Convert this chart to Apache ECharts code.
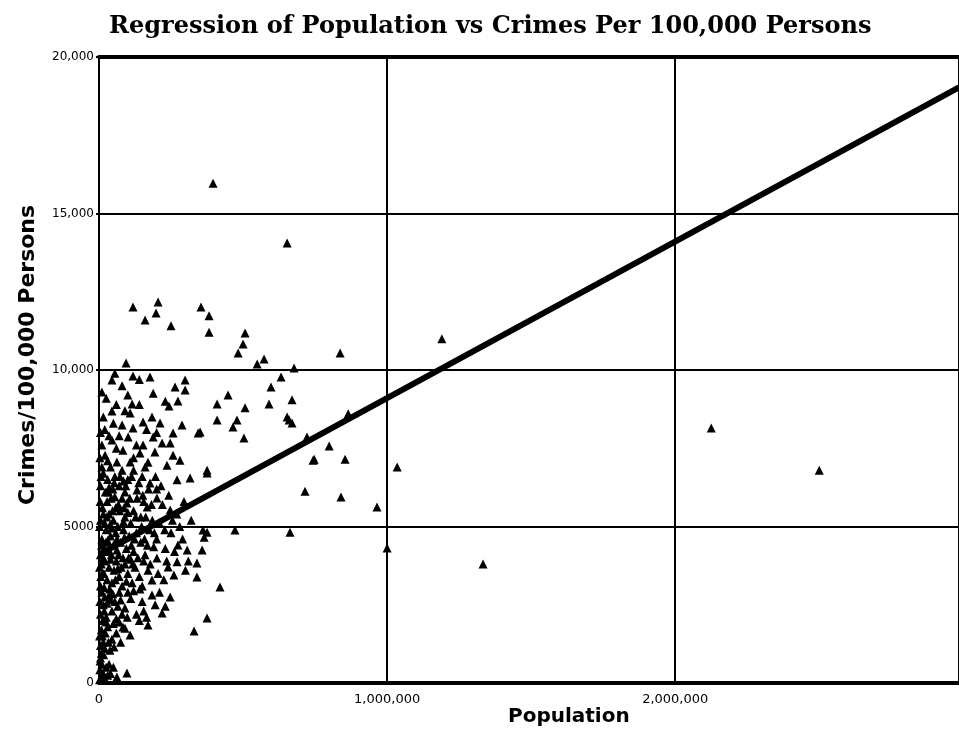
<!DOCTYPE html>
<html>
<head>
<meta charset="utf-8">
<script src="https://cdn.jsdelivr.net/npm/echarts@6/dist/echarts.min.js"></script>
<style>
  html, body { margin: 0; padding: 0; background: #fff; }
  #chart { width: 959px; height: 732px; }
</style>
</head>
<body>
<div id="chart"></div>
<script>
  // x tick values and the labels printed under them
  var xTicks = [0, 1000000, 2000000];
  var xTickLabels = ['0', '1,000,000', '2,000,000'];
  var yTickLabels = { 0: '0', 5000: '5000', 10000: '10,000', 15000: '15,000', 20000: '20,000' };

  // cities close to the origin (population, crimes per 100,000)
  var denseCluster = [
    [3000, 420], [14000, 320], [62000, 190], [97000, 320], [5000, 800], [10000, 600], [20000, 150],
    [30000, 250], [8000, 950], [40000, 300], [25000, 500],
    [5000, 1200], [12000, 1500], [20000, 1100], [30000, 1800], [8000, 1700], [45000, 1400], [60000, 1600],
    [83000, 1790], [108000, 1530], [170000, 1850], [25000, 1950], [15000, 1300], [70000, 1950], [38000, 1050],
    [5000, 2200], [15000, 2500], [25000, 2100], [35000, 2800], [45000, 2300], [55000, 2600], [70000, 2900],
    [90000, 2400], [110000, 2700], [130000, 2200], [150000, 2600], [184000, 2810], [219000, 2240],
    [247000, 2750], [10000, 2900], [60000, 2050], [80000, 2200], [120000, 2950], [165000, 2100],
    [40000, 2650], [20000, 2750],
    [5000, 3100], [12000, 3500], [20000, 3900], [28000, 3300], [35000, 3700], [45000, 3200], [52000, 3600],
    [60000, 3900], [70000, 3400], [80000, 3100], [90000, 3800], [100000, 3500], [115000, 3200],
    [125000, 3700], [140000, 3400], [155000, 3900], [184000, 3290], [201000, 3990], [240000, 3710],
    [271000, 3870], [8000, 3800], [18000, 3050], [40000, 3950], [65000, 3650], [95000, 3250],
    [110000, 3950], [150000, 3100], [170000, 3600], [225000, 3300], [260000, 3450], [300000, 3600],
    [5000, 4100], [10000, 4600], [18000, 4300], [25000, 4900], [32000, 4200], [40000, 4700], [50000, 4400],
    [58000, 4800], [68000, 4100], [75000, 4500], [85000, 4900], [95000, 4300], [105000, 4700],
    [120000, 4200], [130000, 4800], [145000, 4500], [160000, 4100], [175000, 4900], [274000, 4410],
    [306000, 4250], [200000, 4600], [230000, 4300], [250000, 4800], [15000, 4000], [30000, 4550],
    [45000, 4950], [62000, 4250], [88000, 4650], [112000, 4400], [190000, 4350],
    [5000, 5200], [12000, 5600], [20000, 5100], [28000, 5800], [35000, 5400], [42000, 5900], [50000, 5200],
    [58000, 5600], [65000, 5000], [72000, 5500], [80000, 5900], [90000, 5300], [97000, 5750],
    [110000, 5100], [120000, 5500], [132000, 5900], [145000, 5300], [167000, 5620], [201000, 5910],
    [247000, 5530], [15000, 5400], [38000, 5050], [55000, 5950], [85000, 5150], [100000, 5450],
    [155000, 5800], [185000, 5200], [220000, 5700], [270000, 5400],
    [5000, 6300], [15000, 6700], [22000, 6100], [30000, 6500], [40000, 6900], [48000, 6200], [55000, 6600],
    [62000, 7060], [70000, 6300], [80000, 6800], [90000, 6100], [100000, 6500], [108000, 7060],
    [120000, 6800], [132000, 6170], [150000, 6600], [177000, 6390], [236000, 6960], [271000, 6490],
    [316000, 6550], [10000, 6900], [35000, 6250], [85000, 6450], [160000, 6900], [200000, 6200],
    [2000, 1500], [3000, 2600], [6000, 3400], [9000, 4400], [2000, 5000], [4000, 5800], [7000, 6600],
    [3000, 7200], [2000, 3700], [13000, 2000], [17000, 3500], [24000, 4500], [27000, 5300], [33000, 6100],
    [37000, 3000], [43000, 4100], [47000, 5500], [53000, 6400], [57000, 3300], [63000, 4600], [67000, 5700],
    [73000, 6600], [77000, 3700], [83000, 4000], [87000, 5600], [93000, 6300], [103000, 4000],
    [107000, 5900], [113000, 6600], [117000, 3800], [123000, 4600], [127000, 5300], [135000, 4000],
    [138000, 6400], [142000, 3000], [148000, 5000], [152000, 6000], [158000, 4600], [162000, 5300],
    [168000, 4400], [172000, 6200], [178000, 3800], [182000, 5700], [192000, 4800], [196000, 6600],
    [205000, 3500], [210000, 5100], [215000, 6300], [228000, 4900], [235000, 3900], [242000, 6000],
    [255000, 5200], [262000, 4200], [280000, 5000], [290000, 4600], [295000, 5800], [310000, 3900],
    [320000, 5200],
    [4000, 700], [16000, 900], [22000, 1600], [33000, 1300], [50000, 1900], [52000, 1150], [75000, 1300],
    [90000, 1750], [98000, 2100], [12000, 250], [35000, 600], [50000, 500], [2000, 100], [18000, 2300],
    [28000, 2550], [48000, 2850], [65000, 2450], [75000, 2650], [100000, 2900], [140000, 2000],
    [155000, 2300], [195000, 2500], [210000, 2900], [230000, 2450]
  ];

  // the looser spread above and to the right of the cluster
  var spreadPoints = [
    [21000, 7280], [45000, 7760], [83000, 7440], [101000, 7860], [142000, 7350], [153000, 7600],
    [188000, 7860], [194000, 7380], [219000, 7670], [247000, 7670], [257000, 7280], [281000, 7120],
    [257000, 7990], [344000, 7990], [503000, 7830], [351000, 8020], [10000, 7600], [30000, 7100],
    [60000, 7500], [120000, 7200], [170000, 7050], [375000, 6710], [375000, 6800],
    [5000, 8000], [15000, 8500], [35000, 7900], [50000, 8300], [70000, 7900], [90000, 8700],
    [130000, 7600], [140000, 8900], [165000, 8100], [200000, 8000], [230000, 9000], [25000, 9100],
    [55000, 9900], [100000, 9200], [140000, 9700],
    [45000, 8690], [108000, 8630], [115000, 8910], [243000, 8850], [274000, 9010], [80000, 8240],
    [118000, 8150], [153000, 8340], [184000, 8500], [212000, 8310], [288000, 8240], [410000, 8910],
    [410000, 8400], [465000, 8180], [479000, 8400], [507000, 8790], [590000, 8910], [653000, 8500],
    [660000, 8400], [670000, 8310], [670000, 9050], [20000, 8100], [60000, 8900],
    [45000, 9680], [118000, 9810], [177000, 9780], [299000, 9680], [264000, 9460], [299000, 9360],
    [188000, 9260], [448000, 9200], [597000, 9460], [632000, 9780], [10000, 9300], [80000, 9500],
    [94000, 10220], [677000, 10060], [573000, 10350], [549000, 10190], [483000, 10540], [500000, 10830],
    [507000, 11180], [382000, 11210], [382000, 11730], [354000, 12010], [250000, 11410], [160000, 11600],
    [198000, 11820], [205000, 12170], [118000, 12010],
    [340000, 3390], [340000, 3830], [420000, 3070], [375000, 2080], [330000, 1660], [358000, 4250],
    [375000, 4820], [361000, 4890], [365000, 4660], [472000, 4890], [663000, 4820],
    [722000, 7860], [799000, 7570], [747000, 7150], [854000, 7150], [743000, 7120], [865000, 8600],
    [715000, 6130], [837000, 10540]
  ];

  // the few big cities
  var outliers = [
    [396000, 15970], [653000, 14060], [1190000, 11000], [1035000, 6900], [1000000, 4310],
    [1333000, 3800], [965000, 5620], [840000, 5940], [2125000, 8150], [2500000, 6800]
  ];

  // fitted regression line, read at both ends of the axis
  var fitPopulation = [0, 2985000];
  var fitCrimes = [4100, 19030];

  var chart = echarts.init(document.getElementById('chart'));

  var allPoints = denseCluster.concat(spreadPoints, outliers);
  var fitLine = fitPopulation.map(function (p, i) { return [p, fitCrimes[i]]; });

  var axisLineOnly = {
    show: true,
    axisLine: { show: true, lineStyle: { color: '#000', width: 4 } },
    axisTick: { show: false },
    axisLabel: { show: false },
    splitLine: { show: false }
  };

  chart.setOption({
    backgroundColor: '#fff',
    animation: false,
    title: {
      text: 'Regression of Population vs Crimes Per 100,000 Persons',
      left: 104,
      top: 10,
      textStyle: {
        fontFamily: 'DejaVu Serif',
        fontWeight: 'bold',
        fontSize: 24,
        color: '#000'
      }
    },
    grid: {
      left: 99,
      right: 0,
      top: 57,
      bottom: 49
    },
    xAxis: [{
      type: 'value',
      min: 0,
      max: 2985000,
      interval: 1000000,
      axisLine: { lineStyle: { color: '#000', width: 4 } },
      axisTick: { show: false },
      splitLine: { show: true, lineStyle: { color: '#000', width: 2 } },
      axisLabel: {
        color: '#000',
        fontFamily: 'DejaVu Sans',
        fontSize: 13,
        margin: 10,
        showMaxLabel: false,
        formatter: function (v) {
          var i = xTicks.indexOf(v);
          return i >= 0 ? xTickLabels[i] : '';
        }
      }
    }, Object.assign({
      type: 'value',
      position: 'top',
      min: 0,
      max: 2985000
    }, axisLineOnly)],
    yAxis: {
      type: 'value',
      min: 0,
      max: 20000,
      interval: 5000,
      axisLine: { lineStyle: { color: '#000', width: 2 } },
      axisTick: { show: true, length: 3, lineStyle: { color: '#000', width: 2 } },
      splitLine: { show: true, lineStyle: { color: '#000', width: 2 } },
      axisLabel: {
        color: '#000',
        fontFamily: 'DejaVu Sans',
        fontSize: 12,
        margin: 5,
        formatter: function (v) { return yTickLabels[v] || ''; }
      }
    },
    graphic: [
      {
        type: 'text',
        left: 508,
        top: 707,
        style: {
          text: 'Population',
          fill: '#000',
          font: 'bold 20px "DejaVu Sans"'
        }
      },
      {
        type: 'text',
        x: 28,
        y: 355,
        rotation: Math.PI / 2,
        style: {
          text: 'Crimes/100,000 Persons',
          fill: '#000',
          font: 'bold 22px "DejaVu Sans"',
          align: 'center',
          verticalAlign: 'middle'
        }
      }
    ],
    series: [
      {
        type: 'scatter',
        symbol: 'triangle',
        symbolSize: 9,
        itemStyle: { color: '#000', opacity: 1 },
        data: allPoints,
        z: 3
      },
      {
        type: 'line',
        data: fitLine,
        symbol: 'none',
        lineStyle: { color: '#000', width: 6 },
        z: 4
      }
    ]
  });
</script>
</body>
</html>
